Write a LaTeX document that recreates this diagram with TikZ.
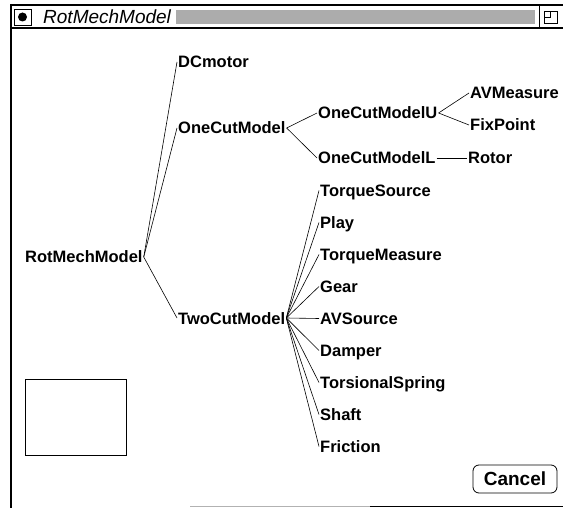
\documentclass[tikz,border=0pt]{standalone}
\usepackage{fontspec}
\newfontfamily\guifont{Liberation Sans}
\begin{document}
\begin{tikzpicture}[
    x=1pt, y=-1pt,
    item/.style={anchor=west, inner sep=1pt, text height=12pt, text depth=0pt, font=\guifont\fontsize{16.5}{18}\selectfont\bfseries},
    branch/.style={line width=0.6pt},
    button/.style={draw, line width=0.8pt, rounded corners=6pt, minimum width=84pt, minimum height=28pt, inner sep=0pt, font=\guifont\fontsize{19}{20}\selectfont\bfseries}
]
    \useasboundingbox (0,0) rectangle (563,508);

    \draw[line width=2pt] (10,5) -- (563,5);
    \draw[line width=2pt] (10,28) -- (563,28);
    \draw[line width=2.5pt] (11,4) -- (11,508);
    \draw[line width=0.8pt] (14,9) rectangle (31,25);
    \fill (22.5,17) circle (4.5);
    \node[anchor=west, inner sep=0pt, font=\guifont\fontsize{19}{20}\selectfont\itshape] (title) at (43,17) {RotMechModel};
    \fill[gray!65] (176,10) rectangle (535,24);
    \draw[line width=0.8pt] (539,5) -- (539,28);
    \draw[line width=0.8pt] (544,11) rectangle (557,23);
    \draw[line width=0.8pt] (544,17) -- (550,17) -- (550,11);
    \draw[gray!60, line width=1pt] (190,506.5) -- (370,506.5);
    \draw[line width=1pt] (370,506.5) -- (563,506.5);

    \node[item] (rot) at (24,257) {RotMechModel};
    \node[item] (dc) at (177,62) {DCmotor};
    \node[item] (one) at (177,128) {OneCutModel};
    \node[item] (two) at (177,318) {TwoCutModel};
    \node[item] (oneU) at (317,113) {OneCutModelU};
    \node[item] (oneL) at (317,158) {OneCutModelL};
    \node[item] (avm) at (469,93) {AVMeasure};
    \node[item] (fix) at (469,125) {FixPoint};
    \node[item] (rotor) at (467,158) {Rotor};

    \draw[branch] (rot.east) -- (dc.west);
    \draw[branch] (rot.east) -- (one.west);
    \draw[branch] (rot.east) -- (two.west);
    \draw[branch] (one.east) -- (oneU.west);
    \draw[branch] (one.east) -- (oneL.west);
    \draw[branch] (oneU.east) -- (avm.west);
    \draw[branch] (oneU.east) -- (fix.west);
    \draw[branch] (oneL.east) -- (rotor.west);

    \foreach \name [count=\i from 0] in {TorqueSource,Play,TorqueMeasure,Gear,AVSource,Damper,TorsionalSpring,Shaft,Friction} {
        \node[item] (\name) at (319,190.5+32*\i) {\name};
        \draw[branch] (two.east) -- (\name.west);
    }

    \draw[line width=1pt] (25,379) rectangle (126,455);
    \node[button] (cancel) at (515,479) {Cancel};
\end{tikzpicture}
\end{document}
